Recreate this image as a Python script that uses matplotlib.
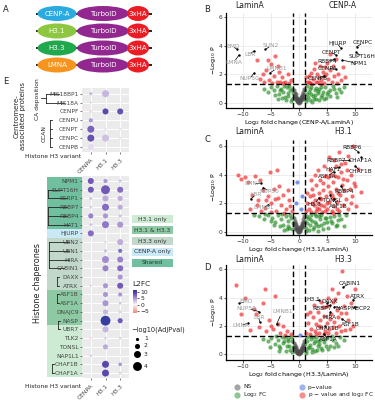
import matplotlib
matplotlib.use('Agg')
import matplotlib.pyplot as plt
import numpy as np
from matplotlib.patches import Ellipse, Rectangle
from matplotlib.colors import LinearSegmentedColormap, Normalize
import matplotlib.colorbar as mcolorbar

nan = np.nan

# ---------------- Panel A data ----------------
constructs = ['CENP-A', 'H3.1', 'H3.3', 'LMNA']
construct_colors = ['#29abe2', '#8dc63f', '#1fa84c', '#f7941d']

# ---------------- Volcano data (log2FC, -log10 P) ----------------
# Panel B: CENP-A / LaminA
B_ns_x = [-0.9,-0.7,-0.5,-0.3,-0.1,0.1,0.3,0.5,0.7,0.9,-0.8,-0.6,-0.4,-0.2,0.0,0.2,0.4,0.6,0.8,-0.5,-0.3,0.3,0.5,-0.7,0.7,0.0,-0.15,0.15,-0.85,0.85]
B_ns_y = [0.9,0.5,0.3,0.15,0.05,0.08,0.2,0.35,0.6,1.0,0.7,0.4,0.2,0.1,0.02,0.12,0.25,0.45,0.8,0.6,0.35,0.4,0.55,0.25,0.3,0.2,0.3,0.25,0.4,0.5]
B_fc_x = [1.1,1.3,1.5,1.8,2.0,2.2,2.5,2.8,3.0,3.3,3.6,4.0,4.3,4.7,5.0,5.5,6.0,6.5,7.2,8.0,1.2,1.6,2.1,2.6,3.1,3.5,4.1,4.8,5.6,6.3,1.4,1.9,2.4,2.9,3.4,3.9,4.5,5.2,6.8,7.5,
          -1.1,-1.3,-1.6,-1.9,-2.2,-2.5,-2.8,-3.2,-3.6,-4.0,-4.5,-5.0,-5.5,-6.2,-1.5,-2.0,-2.6,-3.0,-3.4,-4.2,-1.2,-1.8,-2.4,-3.8]
B_fc_y = [0.9,0.3,0.6,0.8,0.2,1.1,0.5,0.9,0.3,0.7,1.0,0.4,0.8,1.1,0.6,0.9,1.2,0.7,1.0,1.1,0.15,0.45,0.65,0.3,1.05,0.2,0.55,0.35,0.5,1.0,1.2,1.0,0.1,0.55,0.85,1.15,0.25,0.75,0.4,0.8,
          0.7,0.3,0.9,0.5,1.1,0.4,0.8,1.0,0.6,1.2,0.9,1.1,0.8,1.0,0.15,0.7,1.2,0.35,0.9,0.55,1.0,1.2,0.2,0.3]
B_sig_x = [1.5,1.8,2.0,2.2,2.5,2.7,3.0,3.2,3.5,3.7,4.0,4.2,4.5,4.8,5.0,5.2,5.5,5.8,6.0,6.3,6.6,7.0,7.4,7.8,2.3,3.4,4.4,6.8,8.2,5.6,1.3,2.9,4.6,3.9,1.7,
           -1.5,-2.0,-2.5,-3.0,-3.5,-4.0,-4.5,-5.0,-5.3,-5.8,-6.2,-6.5,-4.2,-3.8,-2.8,-5.5,-7.5,-1.8,-3.3,-6.9,-4.8]
B_sig_y = [1.5,1.9,1.4,2.1,1.7,2.4,1.5,2.0,1.8,2.6,1.6,2.2,1.4,2.0,2.8,1.7,2.3,1.5,2.6,1.9,3.1,2.0,1.6,2.5,1.35,1.45,1.9,1.4,1.8,3.4,1.8,2.8,2.5,1.35,1.45,
           1.6,2.0,1.5,1.8,2.2,1.5,1.9,2.7,1.6,2.3,1.5,2.0,3.3,2.6,1.4,3.0,3.0,1.4,1.5,1.7,1.4]
B_p_x = []
B_p_y = []
B_lab = [('EMD',-11.0,3.75,-11.8,3.95),('LMNA',-10.7,3.35,-11.6,2.85),('LBR',-8.0,3.65,-8.8,3.4),
         ('SUN2',-6.0,3.75,-5.0,4.0),('LMNB1',-5.2,2.1,-4.0,2.4),('NUP50',-8.0,2.1,-8.8,1.7),
         ('HJURP',7.4,3.85,6.8,4.2),('CENPC',10.3,3.95,11.4,4.2),('CENPT',6.6,3.35,5.8,3.55),
         ('SUPT16H',10.2,3.55,11.2,3.25),('NPM1',7.7,3.0,10.7,2.75),('RBBP4',6.3,3.05,5.0,2.9),
         ('CENPA',6.5,2.35,5.0,2.45),('CENPB',4.5,1.9,3.3,1.7)]

# Panel C: H3.1 / LaminA
C_ns_x = [-0.9,-0.75,-0.55,-0.35,-0.15,0.05,0.25,0.45,0.65,0.85,-0.8,-0.6,-0.4,-0.2,0.0,0.2,0.4,0.6,0.8,-0.45,-0.25,0.35,0.55,-0.65,0.75,0.1,-0.1,0.15,-0.9,0.9]
C_ns_y = [1.0,0.6,0.3,0.12,0.04,0.06,0.18,0.4,0.7,1.1,0.8,0.45,0.25,0.08,0.02,0.1,0.3,0.5,0.9,0.55,0.3,0.45,0.65,0.2,0.35,0.25,0.35,0.2,0.5,0.6]
C_fc_x = [1.1,1.3,1.6,1.9,2.2,2.5,2.8,3.1,3.4,3.7,4.0,4.4,4.8,5.2,5.7,6.2,6.8,7.5,8.3,1.2,1.5,2.0,2.6,3.0,3.5,4.2,4.9,5.5,6.5,7.2,1.4,1.8,2.3,2.9,3.3,3.9,4.6,5.9,7.0,8.0,
          -1.1,-1.4,-1.7,-2.0,-2.4,-2.8,-3.2,-3.7,-4.2,-4.8,-5.5,-6.3,-7.2,-1.3,-1.9,-2.6,-3.4,-4.5,-1.6,-2.2,-3.0,-5.0,-6.0,-8.0]
C_fc_y = [0.8,0.3,1.0,0.5,1.2,0.2,0.7,1.1,0.4,0.9,1.2,0.6,1.0,0.3,0.8,1.1,0.5,0.9,1.2,0.1,0.6,0.9,0.35,0.55,1.15,0.25,0.7,1.05,0.45,1.2,1.15,0.15,0.75,1.25,0.1,0.5,0.95,0.65,0.85,0.4,
          0.6,1.0,0.3,0.8,1.1,0.5,0.9,1.2,0.7,1.0,1.2,0.9,1.1,0.2,0.45,0.15,0.4,0.5,1.2,0.25,1.25,0.8,1.25,1.2]
C_sig_x = [1.2,1.5,1.8,2.0,2.2,2.4,2.6,2.8,3.0,3.1,3.3,3.5,3.6,3.8,4.0,4.1,4.3,4.5,4.6,4.8,5.0,5.1,5.3,5.5,5.6,5.8,6.0,6.1,6.3,6.5,6.6,6.8,7.0,7.1,7.3,7.5,7.6,7.8,8.0,8.2,
           8.3,8.5,8.7,9.0,9.2,9.5,9.8,10.2,10.5,11.0,3.4,4.4,5.4,6.2,7.2,8.8,9.6,2.1,2.9,3.9,4.9,5.9,6.9,7.9,1.4,2.5,4.2,5.2,6.4,8.6,9.3,10.0,3.2,4.7,6.7,5.7,7.4,6.0,2.3,3.7,
           -1.3,-1.8,-2.3,-2.8,-3.2,-3.7,-4.1,-4.5,-4.9,-5.2,-5.6,-6.0,-6.4,-6.9,-7.3,-7.8,-8.3,-9.0,-9.6,-10.9,-10.3,-2.0,-3.5,-5.0,-2.6,-4.3,-6.7,-1.6,-8.8,-7.5,-3.9,-5.9]
C_sig_y = [1.5,2.0,1.6,2.5,1.4,3.0,1.9,2.2,1.5,3.3,2.0,2.7,1.6,3.6,2.3,1.4,2.9,1.8,3.9,2.5,1.6,3.2,2.1,4.3,2.8,1.5,3.5,2.4,1.8,4.6,3.0,2.1,3.8,1.5,2.6,4.2,3.3,1.9,2.9,4.8,
           2.3,3.6,1.6,3.0,4.0,2.5,3.4,1.8,4.4,2.8,4.3,4.6,5.2,5.0,5.6,5.3,6.0,3.6,4.0,1.9,2.0,2.6,2.7,3.7,2.7,2.6,3.4,3.8,3.9,4.3,2.0,3.2,1.7,1.5,1.6,4.0,4.7,1.35,2.0,2.4,
           1.5,2.2,1.6,2.6,1.9,2.4,1.5,3.0,2.0,4.2,2.5,1.7,2.9,3.6,2.2,3.9,2.6,3.5,3.8,4.0,3.7,2.9,3.2,1.4,1.35,2.3,1.5,1.8,1.6,1.9,4.3,2.2]
C_p_x = [-0.4,0.5,-0.6,0.3]
C_p_y = [3.5,2.5,2.0,1.6]
C_lab = [('LMNA',-6.7,3.4,-8.2,3.35),('NUP50',-6.4,3.1,-5.3,2.85),('LBR',-8.6,2.3,-7.7,2.6),('LMNB1',-5.5,1.9,-6.3,1.7),
         ('RBBP6',10.5,5.6,9.5,5.85),('RBBP7',8.9,5.0,6.7,5.0),('CHAF1A',11.0,5.2,11.0,4.95),('HAT1',7.1,4.5,6.0,4.35),
         ('CHAF1B',10.0,4.6,11.0,4.2),('ASF1A',6.2,4.2,5.0,3.85),('RBBP4',7.5,3.2,8.0,2.85),('TONSL',5.6,2.6,5.8,2.2),
         ('ASF1B',6.2,2.3,7.0,1.75),('H3.3',3.6,2.4,2.8,1.95)]

# Panel D: H3.3 / LaminA
D_ns_x = [-0.9,-0.7,-0.5,-0.3,-0.1,0.1,0.3,0.5,0.7,0.9,-0.8,-0.6,-0.4,-0.2,0.0,0.2,0.4,0.6,0.8,-0.5,-0.3,0.3,0.5,-0.7,0.7,0.0,-0.15,0.15,-0.85,0.85]
D_ns_y = [0.8,0.5,0.25,0.1,0.04,0.07,0.15,0.3,0.55,0.9,0.65,0.35,0.18,0.06,0.02,0.1,0.22,0.42,0.7,0.5,0.3,0.35,0.5,0.25,0.3,0.15,0.25,0.22,0.4,0.45]
D_fc_x = [1.1,1.3,1.5,1.8,2.1,2.4,2.7,3.0,3.3,3.7,4.1,4.5,5.0,5.5,6.0,6.6,7.3,8.1,1.2,1.6,2.0,2.5,2.9,3.4,3.9,4.4,5.2,6.2,7.0,1.4,1.9,2.3,2.8,3.2,3.6,4.8,5.8,
          -1.1,-1.3,-1.6,-1.9,-2.2,-2.5,-2.9,-3.3,-3.8,-4.3,-4.9,-5.6,-1.2,-1.7,-2.3,-2.7,-3.1,-3.6,-4.1,-5.2,-6.4,-1.5,-2.0,-3.5]
D_fc_y = [0.7,0.25,0.95,0.5,1.1,0.35,0.8,1.2,0.55,1.0,0.3,0.85,1.15,0.6,1.0,0.75,1.2,1.0,0.1,0.4,0.65,1.2,0.2,0.9,0.45,1.1,0.35,0.5,0.6,1.2,1.25,0.15,0.95,0.3,0.7,0.55,1.25,
          0.5,0.9,0.3,1.1,0.6,1.2,0.8,0.4,1.0,0.7,1.15,0.9,0.15,0.55,0.25,0.95,1.2,0.6,1.25,0.5,1.1,1.2,0.9,0.2]
D_sig_x = [1.3,1.6,1.9,2.2,2.5,2.8,3.0,3.3,3.5,3.8,4.0,4.2,4.5,4.7,5.0,5.2,5.4,5.7,6.0,6.2,6.5,6.7,7.0,7.2,7.5,7.7,8.0,8.2,8.5,8.8,9.2,9.6,10.0,3.9,4.9,5.9,6.9,2.0,2.7,4.4,
           6.4,8.4,3.6,5.5,7.4,9.0,1.5,3.1,5.1,6.1,
           -1.5,-2.2,-2.8,-3.3,-4.2,-4.6,-5.3,-5.8,-6.0,-6.4,-7.1,-7.6,-8.1,-8.8,-9.6,-11.2,-10.3,-3.8,-2.5,-5.0]
D_sig_y = [1.5,2.2,1.4,1.8,2.6,1.6,2.1,3.0,1.5,2.4,1.9,3.3,2.7,1.6,2.2,4.0,1.8,2.8,3.7,2.3,1.5,3.1,4.3,2.0,2.9,5.9,3.4,1.7,4.1,2.4,3.6,2.0,4.6,3.7,3.4,4.6,2.6,3.0,3.5,1.4,
           3.9,2.9,2.0,2.5,1.6,1.8,2.8,1.4,1.5,1.9,
           1.4,1.6,2.0,1.5,4.1,1.8,2.4,1.6,4.6,3.6,1.9,2.8,3.2,1.7,4.0,4.9,2.8,2.1,1.35,2.0]
D_p_x = [0.2]
D_p_y = [1.35]
D_lab = [('EMD',-10.6,3.6,-9.4,3.7),('NUP50',-7.1,3.0,-9.3,3.25),('LBR',-7.0,2.3,-7.2,2.6),('LMNA',-9.0,2.2,-10.4,2.0),
         ('LMNB1',-4.0,2.1,-3.0,3.0),
         ('CABIN1',7.9,4.75,9.1,5.0),('ATRX',9.6,3.85,10.4,4.05),('H3.1',3.6,3.85,2.6,3.85),('DAXX',5.0,3.6,5.5,3.72),
         ('MECP2',9.8,3.3,11.0,3.25),('NASP',6.3,3.35,7.9,3.25),('RBBP7',5.5,3.45,4.2,3.25),('HIRA',5.6,3.0,5.4,2.6),
         ('ASF1B',7.6,2.5,9.1,2.1),('CHAF1B',4.6,2.0,5.0,1.8),('ASF1A',4.4,1.45,5.2,1.0)]

# ---------------- Dot plot data ----------------
variants = ['CENPA', 'H3.1', 'H3.3']
top_genes = ['MIS18BP1', 'MIS18A', 'CENPF', 'CENPU', 'CENPT', 'CENPC', 'CENPB']
top_pval_CENPA = [1.0, 0.5, 1.0, 1.5, 3.0, 3.0, 2.5]
top_pval_H31 = [3.0, nan, 2.5, nan, 0.8, 3.0, nan]
top_pval_H33 = [nan, nan, 2.5, nan, 0.8, 0.7, nan]
top_l2fc_CENPA = [3.5, 2.0, -1.5, 5.0, 7.5, 8.5, 1.5]
top_l2fc_H31 = [3.5, nan, 9.0, nan, 1.0, 3.0, nan]
top_l2fc_H33 = [nan, nan, 8.5, nan, 1.0, 1.0, nan]

bot_genes = ['NPM1', 'SUPT16H', 'SSRP1', 'RBBP7', 'RBBP4', 'HAT1', 'HJURP', 'UBN2', 'UBN1', 'HIRA',
             'CABIN1', 'DAXX', 'ATRX', 'ASF1B', 'ASF1A', 'DNAJC9', 'NASP', 'UBR7', 'TLK2', 'TONSL',
             'NAP1L1', 'CHAF1B', 'CHAF1A']
bot_pval_CENPA = [2.5, 2.5, 0.8, 0.7, 2.0, 0.8, 2.5, nan, nan, nan, nan, nan, 0.5, nan, nan, nan, nan, nan, 0.7, nan, 0.8, nan, nan]
bot_pval_H31 = [1.5, 4.0, 2.5, 3.0, 2.0, 3.0, nan, 0.7, 1.0, 3.0, 2.5, nan, 2.0, 2.0, 2.5, 2.0, 4.5, 2.5, 0.8, 2.0, nan, 3.0, 3.0]
bot_pval_H33 = [0.8, 2.5, 2.0, 2.0, 1.0, 2.5, nan, 2.5, 1.5, 2.5, 2.5, 2.0, 2.5, 1.5, 0.7, 1.0, 2.0, nan, 0.7, nan, 0.4, 1.2, 0.8]
bot_l2fc_CENPA = [8.0, 8.0, 3.0, 2.5, 6.0, 3.0, 7.0, nan, nan, nan, nan, nan, 2.0, nan, nan, nan, nan, nan, -1.5, nan, 2.0, nan, nan]
bot_l2fc_H31 = [5.0, 8.0, 4.0, 7.0, 5.0, 6.5, nan, 1.5, 3.0, 5.5, 6.0, nan, 5.0, 5.0, 5.0, 3.5, 11.0, 3.5, 2.0, 4.0, nan, 9.0, 9.0]
bot_l2fc_H33 = [3.0, 7.0, 4.0, 4.0, 3.0, 5.0, nan, 4.0, 7.0, 6.0, 7.0, 5.0, 8.0, 5.0, 3.0, 2.0, 8.0, nan, 2.0, nan, 1.0, 5.0, 2.0]

group_names = ['H3.1 only', 'H3.1 & H3.3', 'H3.3 only', 'CENP-A only', 'Shared']
group_colors = ['#cdebd2', '#8dcaa3', '#c2d8cb', '#c9e9f6', '#70bf9e']
group_rows = {'Shared': (0, 5), 'CENP-A only': (6, 6), 'H3.3 only': (7, 12),
              'H3.1 & H3.3': (13, 16), 'H3.1 only': (17, 22)}

size_legend_vals = [1, 2, 3, 4]
cbar_ticks = [-5, 0, 5, 10]

# ---------------- Figure ----------------
W, H = 375, 400
fig = plt.figure(figsize=(3.75, 4.0), dpi=100)
ov = fig.add_axes([0, 0, 1, 1], zorder=-1)
ov.set_xlim(0, W); ov.set_ylim(H, 0); ov.axis('off'); ov.patch.set_alpha(0)

def ax_px(l, t, r, b, **kw):
    return fig.add_axes([l / W, 1 - b / H, (r - l) / W, (b - t) / H], **kw)

for lab, x, y in [('A', 6, 9), ('E', 6, 81), ('B', 207, 9), ('C', 207, 140), ('D', 207, 268)]:
    ov.text(x, y, lab, fontsize=6, ha='center', va='center', color='#222')

# ---------------- Panel A ----------------
row_y = [13.5, 31, 48, 65]
for name, col, y in zip(constructs, construct_colors, row_y):
    ov.plot([36, 152], [y, y], color='black', lw=1.2, solid_capstyle='butt', zorder=1)
    ov.add_patch(Ellipse((57, y), 39, 15, fc=col, ec='none', zorder=2))
    ov.add_patch(Ellipse((103, y), 52, 15, fc='#92278f', ec='none', zorder=2))
    ov.add_patch(Ellipse((138, y), 22, 15, fc='#ec1c24', ec='none', zorder=2))
    ov.text(57, y, name, color='white', fontsize=5, ha='center', va='center', zorder=3)
    ov.text(103, y, 'TurboID', color='white', fontsize=5, ha='center', va='center', zorder=3)
    ov.text(138, y, '3xHA', color='white', fontsize=5, ha='center', va='center', zorder=3)

# ---------------- Volcanoes ----------------
COL_NS, COL_FC, COL_P, COL_SIG = '#4d4d4d', '#228b22', '#4169e1', '#ee2222'

def volcano(ax, ns, fc, sig, pv, labs, xlabel, ylim):
    ax.set_xlim(-13, 13); ax.set_ylim(*ylim)
    ax.grid(True, color='#e6e6e6', lw=0.5); ax.set_axisbelow(True)
    ax.set_xticks([-10, -5, 0, 5, 10]); ax.set_yticks([0, 2, 4, 6])
    ax.set_xticklabels(['−10', '−5', '0', '5', '10'])
    ax.tick_params(labelsize=4.3, length=1.8, width=0.6, pad=0.8, colors='#333')
    for s in ['top', 'right']:
        ax.spines[s].set_visible(False)
    for s in ['left', 'bottom']:
        ax.spines[s].set_color('black'); ax.spines[s].set_linewidth(0.9)
    ax.scatter(fc[0], fc[1], s=9, color=COL_FC, alpha=0.65, lw=0)
    ax.scatter(ns[0], ns[1], s=9, color=COL_NS, alpha=0.65, lw=0)
    ax.scatter(pv[0], pv[1], s=9, color=COL_P, alpha=0.7, lw=0)
    ax.scatter(sig[0], sig[1], s=9, color=COL_SIG, alpha=0.65, lw=0)
    for v in (-1, 1):
        ax.axvline(v, color='black', lw=1.0, ls=(0, (4, 2)))
    ax.axhline(1.301, color='black', lw=1.0, ls=(0, (4, 2)))
    for g, px, py, tx, ty in labs:
        c = '#9a9a9a' if px < 0 else '#1a1a1a'
        ax.scatter([px], [py], s=3, color='black', zorder=5, lw=0)
        dx, dy = px - tx, py - ty
        ax.plot([px, tx + 0.35 * dx], [py, ty + 0.35 * dy], color='black', lw=0.5, zorder=4)
        ax.text(tx, ty, g, fontsize=4.2, color=c, ha='center', va='center', zorder=6)
    ax.set_xlabel(xlabel, fontsize=4.5, labelpad=0.8)
    ax.set_ylabel('−Log$_{10}$ P', fontsize=4.5, labelpad=0.5)

axB = ax_px(226, 13, 372, 108)
volcano(axB, (B_ns_x, B_ns_y), (B_fc_x, B_fc_y), (B_sig_x, B_sig_y), (B_p_x, B_p_y), B_lab,
        'Log$_2$ fold change (CENP-A/LaminA)', (-0.35, 6.3))
axC = ax_px(226, 140, 372, 235)
volcano(axC, (C_ns_x, C_ns_y), (C_fc_x, C_fc_y), (C_sig_x, C_sig_y), (C_p_x, C_p_y), C_lab,
        'Log$_2$ fold change (H3.1/LaminA)', (-0.2, 6.4))
axD = ax_px(226, 265, 372, 360)
volcano(axD, (D_ns_x, D_ns_y), (D_fc_x, D_fc_y), (D_sig_x, D_sig_y), (D_p_x, D_p_y), D_lab,
        'Log$_2$ fold change (H3.3/LaminA)', (-0.42, 6.3))

for y, right in [(5.5, 'CENP-A'), (132, 'H3.1'), (260, 'H3.3')]:
    ov.text(250, y, 'LaminA', fontsize=5.5, ha='center', va='center', color='#222')
    ov.text(343, y, right, fontsize=5.5, ha='center', va='center', color='#222')

leg = [(237, 387, COL_NS, 'NS'), (237, 394.5, COL_FC, 'Log$_2$ FC'),
       (302, 387, COL_P, 'p−value'), (302, 394.5, COL_SIG, 'p − value and log$_2$ FC')]
for x, y, c, t in leg:
    ov.scatter([x], [y], s=20, color=c, alpha=0.5, lw=0)
    ov.text(x + 6, y, t, fontsize=4.2, ha='left', va='center', color='#222')

# ---------------- Dot plots ----------------
cmap = LinearSegmentedColormap.from_list('l2fc', [
    (0.0, '#f08a70'), (0.361, '#f7f4f8'), (0.53, '#cfc0e4'), (0.69, '#9a82cd'),
    (0.86, '#5d47ad'), (1.0, '#2b3d9c')])
norm = Normalize(vmin=-6.5, vmax=11.5)

def dsize(v):
    d = 1.3 + 1.9 * np.asarray(v, dtype=float)
    return (d / 1.389) ** 2

def dotplot(ax, genes, pvals, l2fcs):
    n = len(genes)
    ax.set_facecolor('#ebebeb')
    ax.set_xlim(-0.6, 2.6); ax.set_ylim(n - 1 + 0.6, -0.6)
    ax.set_xticks([0, 1, 2]); ax.set_yticks(range(n))
    ax.grid(True, color='white', lw=0.7); ax.set_axisbelow(True)
    for s in ax.spines.values():
        s.set_visible(False)
    for j, (pv, lf) in enumerate(zip(pvals, l2fcs)):
        pv = np.asarray(pv, float); lf = np.asarray(lf, float)
        m = ~np.isnan(pv)
        ax.scatter(np.full(m.sum(), j), np.arange(n)[m], s=dsize(pv[m]), c=lf[m],
                   cmap=cmap, norm=norm, lw=0, zorder=3)
    ax.set_yticklabels(genes, fontsize=4.2, color='#222')
    ax.set_xticklabels(variants, fontsize=4.3, rotation=45, ha='right', va='top',
                       rotation_mode='anchor', color='#222')
    ax.tick_params(axis='both', length=1.5, width=0.5, pad=1, colors='#444')
    ax.tick_params(axis='x', pad=2)

top_t, top_sp = 93.7, 8.88
bot_t, bot_sp = 181.0, 8.73
axT = ax_px(82, top_t - 0.6 * top_sp, 129, top_t + 6.6 * top_sp)
dotplot(axT, top_genes, [top_pval_CENPA, top_pval_H31, top_pval_H33],
        [top_l2fc_CENPA, top_l2fc_H31, top_l2fc_H33])
axE = ax_px(82, bot_t - 0.6 * bot_sp, 129, bot_t + 22.6 * bot_sp)
dotplot(axE, bot_genes, [bot_pval_CENPA, bot_pval_H31, bot_pval_H33],
        [bot_l2fc_CENPA, bot_l2fc_H31, bot_l2fc_H33])

gcol = dict(zip(group_names, group_colors))
for g, (r0, r1) in group_rows.items():
    y0 = bot_t + (r0 - 0.5) * bot_sp
    y1 = bot_t + (r1 + 0.5) * bot_sp
    ov.add_patch(Rectangle((47, y0), 34.5, y1 - y0, fc=gcol[g], ec='none', zorder=0))

def row_px(top, sp, i):
    return top + i * sp

def label_left(txt):
    return 79.5 - len(txt) * 2.5

def tree_bracket(xb, top, sp, rows, genes):
    ys = [row_px(top, sp, r) for r in rows]
    ov.plot([xb, xb], [min(ys), max(ys)], color='#222', lw=0.6, zorder=2)
    for r, y in zip(rows, ys):
        ov.plot([xb, label_left(genes[r]) - 0.5], [y, y], color='#222', lw=0.6, zorder=2)

def square_bracket(xb, top, sp, rows):
    ys = [row_px(top, sp, r) for r in rows]
    ov.plot([xb, xb], [min(ys), max(ys)], color='#222', lw=0.6, zorder=2)
    for y in ys:
        ov.plot([xb, xb + 2], [y, y], color='#222', lw=0.6, zorder=2)

tree_bracket(46, top_t, top_sp, [0, 1], top_genes)
ov.plot([41, 46], [row_px(top_t, top_sp, 0.5)] * 2, color='#222', lw=0.6)
square_bracket(50, top_t, top_sp, [3, 4, 5, 6])
tree_bracket(48, bot_t, bot_sp, [1, 2], bot_genes)
tree_bracket(48, bot_t, bot_sp, [3, 4, 5], bot_genes)
tree_bracket(49, bot_t, bot_sp, [7, 8, 9, 10], bot_genes)
square_bracket(57, bot_t, bot_sp, [11, 12])
square_bracket(57, bot_t, bot_sp, [13, 14])
square_bracket(58, bot_t, bot_sp, [16, 17])
square_bracket(52, bot_t, bot_sp, [21, 22])

ov.text(38, 99, 'CA deposition', rotation=90, fontsize=4.3, ha='center', va='center', color='#222')
ov.text(44, row_px(top_t, top_sp, 4.5), 'CCAN', rotation=90, fontsize=4.3, ha='center', va='center', color='#222')
ov.text(20, 116, 'Centromere-\nassociated proteins', rotation=90, fontsize=5, ha='center',
        va='center', color='#222', linespacing=1.0)
ov.text(37, 283, 'Histone chaperones', rotation=90, fontsize=5.8, ha='center', va='center', color='#222')
ov.text(81, 156.5, 'Histone H3 variant', fontsize=4.3, ha='right', va='center', color='#222')
ov.text(81, 387, 'Histone H3 variant', fontsize=4.3, ha='right', va='center', color='#222')

for i, (g, c) in enumerate(zip(group_names, group_colors)):
    yc = 219 + i * 11
    ov.add_patch(Rectangle((132, yc - 4.2), 41, 8.4, fc=c, ec='none'))
    ov.text(152.5, yc, g, fontsize=4.3, ha='center', va='center', color='#333')

ov.text(132, 284, 'L2FC', fontsize=5.3, ha='left', va='center', color='#222')
cax = ax_px(133, 290, 137, 313)
cb = mcolorbar.ColorbarBase(cax, cmap=cmap, norm=norm, ticks=cbar_ticks)
cb.outline.set_visible(False)
cb.ax.set_yticklabels(['−5', '0', '5', '10'])
cb.ax.tick_params(labelsize=4.3, length=1.5, width=0.5, pad=0.8, colors='#222')

ov.text(131, 330, '−log10(AdjPval)', fontsize=4.8, ha='left', va='center', color='#222')
for v, y in zip(size_legend_vals, [339, 345.5, 354, 366]):
    ov.scatter([137], [y], s=dsize(v), color='black', lw=0)
    ov.text(144, y, str(v), fontsize=4.3, ha='left', va='center', color='#222')

fig.savefig('out.png', dpi=100)
